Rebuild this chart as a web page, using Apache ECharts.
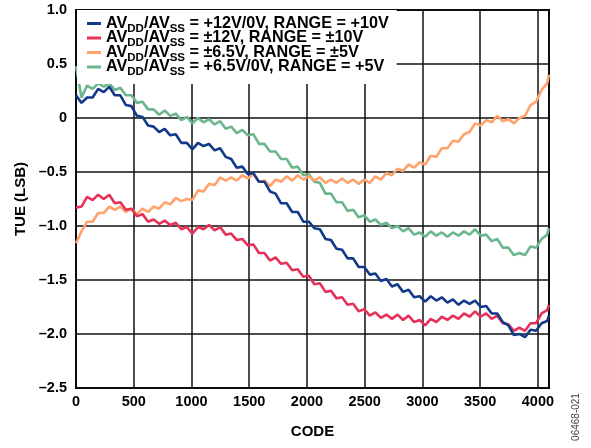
<!DOCTYPE html>
<html>
<head>
<meta charset="utf-8">
<script src="https://cdn.jsdelivr.net/npm/echarts@6/dist/echarts.min.js"></script>
<style>
  html, body { margin: 0; padding: 0; background: #fff; }
  #chart { width: 591px; height: 448px; }
</style>
</head>
<body>
<div id="chart"></div>
<script>
// codes (x axis)
const codes = [
  0, 48, 96, 144, 192, 240, 288, 336, 384, 432, 480, 528, 576, 624, 672, 720,
  768, 816, 864, 912, 960, 1008, 1056, 1104, 1152, 1200, 1248, 1296, 1344, 1392, 1440, 1488,
  1536, 1584, 1632, 1680, 1728, 1776, 1824, 1872, 1920, 1968, 2016, 2064, 2112, 2160, 2208, 2256,
  2304, 2352, 2400, 2448, 2496, 2544, 2592, 2640, 2688, 2736, 2784, 2832, 2880, 2928, 2976, 3024,
  3072, 3120, 3168, 3216, 3264, 3312, 3360, 3408, 3456, 3504, 3552, 3600, 3648, 3696, 3744, 3792,
  3840, 3888, 3936, 3984, 4032, 4080, 4095
]

// AVDD/AVSS = +12V/0V, RANGE = +10V
const tue12Uni = [
  0.21, 0.14, 0.19, 0.19, 0.27, 0.24, 0.29, 0.21, 0.21, 0.12, 0.11, 0.02, 0.01, -0.07, -0.08, -0.13,
  -0.10, -0.16, -0.15, -0.23, -0.23, -0.29, -0.23, -0.26, -0.24, -0.30, -0.28, -0.36, -0.38, -0.46, -0.45, -0.52,
  -0.51, -0.59, -0.59, -0.68, -0.70, -0.79, -0.79, -0.87, -0.87, -0.96, -0.96, -1.02, -1.03, -1.12, -1.13, -1.21,
  -1.22, -1.30, -1.30, -1.38, -1.38, -1.45, -1.44, -1.51, -1.49, -1.56, -1.54, -1.61, -1.59, -1.66, -1.65, -1.70,
  -1.65, -1.69, -1.66, -1.71, -1.68, -1.73, -1.69, -1.72, -1.69, -1.75, -1.74, -1.81, -1.81, -1.89, -1.92, -2.01,
  -2.00, -2.03, -1.96, -1.97, -1.90, -1.88, -1.83
]

// AVDD/AVSS = ±12V, RANGE = ±10V
const tue12Bi = [
  -0.83, -0.82, -0.73, -0.76, -0.71, -0.75, -0.71, -0.79, -0.78, -0.85, -0.84, -0.91, -0.89, -0.96, -0.94, -0.98,
  -0.95, -0.99, -0.97, -1.03, -1.01, -1.07, -1.01, -1.03, -0.99, -1.04, -1.01, -1.08, -1.07, -1.13, -1.12, -1.18,
  -1.17, -1.25, -1.25, -1.32, -1.29, -1.35, -1.34, -1.41, -1.40, -1.47, -1.46, -1.54, -1.53, -1.61, -1.60, -1.67,
  -1.66, -1.73, -1.72, -1.79, -1.77, -1.83, -1.80, -1.85, -1.82, -1.86, -1.82, -1.87, -1.83, -1.89, -1.87, -1.92,
  -1.86, -1.89, -1.84, -1.87, -1.83, -1.86, -1.81, -1.84, -1.79, -1.84, -1.81, -1.86, -1.83, -1.90, -1.91, -1.97,
  -1.94, -1.97, -1.90, -1.90, -1.81, -1.78, -1.73
]

// AVDD/AVSS = ±6.5V, RANGE = ±5V
const tue65Bi = [
  -1.16, -1.05, -0.96, -0.96, -0.88, -0.88, -0.82, -0.85, -0.82, -0.87, -0.84, -0.89, -0.84, -0.87, -0.82, -0.84,
  -0.78, -0.80, -0.74, -0.77, -0.75, -0.76, -0.67, -0.68, -0.61, -0.62, -0.55, -0.58, -0.55, -0.58, -0.53, -0.56,
  -0.52, -0.59, -0.58, -0.63, -0.57, -0.59, -0.54, -0.58, -0.53, -0.57, -0.54, -0.58, -0.55, -0.60, -0.57, -0.60,
  -0.56, -0.60, -0.57, -0.61, -0.57, -0.60, -0.54, -0.57, -0.51, -0.53, -0.47, -0.49, -0.43, -0.46, -0.41, -0.43,
  -0.35, -0.36, -0.28, -0.28, -0.21, -0.22, -0.15, -0.13, -0.05, -0.07, -0.02, -0.04, 0.02, -0.03, -0.01, -0.05,
  0.00, 0.02, 0.12, 0.15, 0.26, 0.32, 0.40
]

// AVDD/AVSS = +6.5V/0V, RANGE = +5V
const tue65Uni = [
  0.48, 0.19, 0.30, 0.27, 0.32, 0.29, 0.32, 0.26, 0.28, 0.21, 0.21, 0.14, 0.15, 0.08, 0.08, 0.03,
  0.07, 0.02, 0.04, -0.02, 0.01, -0.05, 0.00, -0.04, -0.01, -0.06, -0.03, -0.10, -0.08, -0.14, -0.11, -0.16,
  -0.15, -0.24, -0.24, -0.31, -0.31, -0.38, -0.38, -0.46, -0.45, -0.53, -0.52, -0.59, -0.60, -0.70, -0.70, -0.78,
  -0.78, -0.86, -0.85, -0.92, -0.90, -0.96, -0.94, -0.99, -0.97, -1.02, -1.00, -1.05, -1.02, -1.08, -1.06, -1.10,
  -1.05, -1.09, -1.06, -1.10, -1.06, -1.09, -1.05, -1.08, -1.03, -1.09, -1.08, -1.14, -1.12, -1.20, -1.20, -1.27,
  -1.25, -1.27, -1.19, -1.20, -1.12, -1.08, -1.02
]

const seriesNames = [
  'AVDD/AVSS = +12V/0V, RANGE = +10V',
  'AVDD/AVSS = ±12V, RANGE = ±10V',
  'AVDD/AVSS = ±6.5V, RANGE = ±5V',
  'AVDD/AVSS = +6.5V/0V, RANGE = +5V'
]
const seriesColors = ['#12398A', '#E5325A', '#FFA26C', '#6BB68C']
const seriesValues = [tue12Uni, tue12Bi, tue65Bi, tue65Uni]

const font = '"Liberation Sans", Arial, Helvetica, sans-serif'

const chart = echarts.init(document.getElementById('chart'), null, { renderer: 'canvas' })

const option = {
  animation: false,
  backgroundColor: '#fff',
  textStyle: { fontFamily: font },
  grid: {
    left: 76, right: 42, top: 10, bottom: 60,
    show: true, borderColor: '#000', borderWidth: 2
  },
  legend: {
    orient: 'vertical',
    left: 77, top: 10,
    padding: [5.5, 8, 6, 10],
    itemGap: -4.5,
    backgroundColor: '#fff',
    icon: 'rect',
    itemWidth: 14, itemHeight: 3,
    data: seriesNames,
    formatter: name => name.replace('DD', '{sub|DD}').replace('SS', '{sub|SS}'),
    textStyle: {
      fontFamily: font, fontSize: 16.2, fontWeight: 'bold', color: '#000', lineHeight: 16,
      rich: {
        sub: {
          fontFamily: font, fontSize: 11.5, fontWeight: 'bold', color: '#000',
          lineHeight: 16, height: 6, verticalAlign: 'bottom'
        }
      }
    }
  },
  xAxis: {
    type: 'value',
    min: 0, max: 4096, interval: 500,
    name: 'CODE', nameLocation: 'middle', nameGap: 36,
    nameTextStyle: { fontFamily: font, fontSize: 15, fontWeight: 'bold', color: '#000' },
    axisLine: { show: false },
    axisTick: { show: false },
    axisLabel: {
      showMaxLabel: false, margin: 6,
      fontFamily: font, fontSize: 14.5, fontWeight: 'bold', color: '#000',
      formatter: v => String(v)
    },
    splitLine: { show: true, lineStyle: { color: '#111', width: 1.5 } }
  },
  yAxis: {
    type: 'value',
    min: -2.5, max: 1, interval: 0.5,
    name: 'TUE (LSB)', nameLocation: 'middle', nameGap: 48, nameRotate: 90,
    nameTextStyle: { fontFamily: font, fontSize: 15, fontWeight: 'bold', color: '#000' },
    axisLine: { show: false },
    axisTick: { show: false },
    axisLabel: {
      margin: 9,
      fontFamily: font, fontSize: 14.5, fontWeight: 'bold', color: '#000',
      formatter: v => (v === 0 ? '0' : v.toFixed(1).replace('-', '–'))
    },
    splitLine: { show: true, lineStyle: { color: '#111', width: 1.5 } }
  },
  graphic: [{
    type: 'text',
    x: 576, y: 417,
    rotation: Math.PI / 2,
    style: {
      text: '06468-021',
      fontFamily: font, fontSize: 10, fill: '#444',
      align: 'center', verticalAlign: 'middle'
    }
  }],
  series: seriesNames.map((name, k) => ({
    name,
    type: 'line',
    data: codes.map((c, i) => [c, seriesValues[k][i]]),
    showSymbol: false,
    symbol: 'none',
    color: seriesColors[k],
    lineStyle: { width: 2.6, color: seriesColors[k] },
    z: 3 + (3 - k)
  }))
}

chart.setOption(option)
window.addEventListener('resize', () => chart.resize())
</script>
</body>
</html>
